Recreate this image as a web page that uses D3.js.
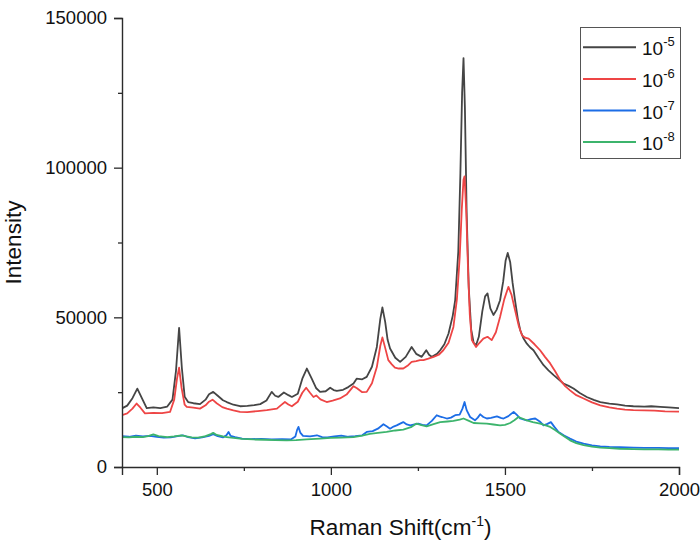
<!DOCTYPE html>
<html>
<head>
<meta charset="utf-8">
<script src="https://cdnjs.cloudflare.com/ajax/libs/d3/7.8.5/d3.min.js"></script>
<style>
  body { margin: 0; background: #fff; }
  svg { font-family: "Liberation Sans", Arial, sans-serif; }
</style>
</head>
<body>
<div id="chart"></div>
<script>
// spectra: [Raman shift (cm-1), intensity]
var conc5 = [[400,19600],[415,20500],[430,23000],[444,26200],[455,23500],[471,19700],[490,19900],[510,19700],[530,20200],[545,22500],[555,32000],[564,46500],[572,33000],[580,23500],[590,21700],[605,21300],[624,21000],[640,22500],[650,24300],[662,25100],[675,23800],[690,22300],[701,21700],[720,20800],[739,20300],[760,20400],[780,20700],[797,21000],[815,22200],[830,25100],[840,23800],[849,23400],[865,24900],[878,24000],[888,23400],[905,24500],[918,29500],[931,32900],[945,29500],[958,26300],[969,25100],[985,25300],[998,26500],[1008,25700],[1017,25400],[1035,25800],[1050,26700],[1065,27900],[1074,29500],[1090,29300],[1103,30100],[1118,33500],[1132,40100],[1142,49500],[1148,53300],[1156,48500],[1163,42500],[1170,39600],[1185,36500],[1199,35100],[1215,36800],[1232,40100],[1245,37800],[1261,36800],[1274,39000],[1282,37500],[1290,36800],[1305,37800],[1314,39000],[1326,41000],[1338,44600],[1350,50500],[1357,55700],[1366,72000],[1372,98000],[1377,125000],[1381,136600],[1385,120000],[1390,85000],[1396,60000],[1403,46000],[1410,41500],[1417,40700],[1425,43500],[1435,52000],[1443,57000],[1450,58000],[1458,53000],[1467,50800],[1476,52500],[1486,55700],[1495,62000],[1502,69000],[1508,71500],[1515,68500],[1522,61500],[1529,55700],[1537,49500],[1544,45700],[1553,43000],[1563,41200],[1572,40000],[1582,39000],[1597,36300],[1611,34000],[1625,32300],[1640,30700],[1655,29200],[1668,27900],[1683,27100],[1697,26200],[1715,24700],[1735,23400],[1755,22400],[1774,21700],[1800,21200],[1822,20900],[1845,20500],[1869,20300],[1900,20200],[1920,20300],[1946,20100],[1970,19900],[2000,19700]];

var conc6 = [[400,17300],[415,17900],[430,19500],[442,21200],[453,19800],[466,17900],[490,18100],[515,18000],[538,18400],[550,22500],[558,29500],[564,33200],[571,26500],[580,20800],[586,20100],[605,19800],[624,19500],[640,20600],[650,21800],[660,22500],[672,21300],[688,20000],[701,19500],[720,18900],[739,18400],[760,18300],[790,18700],[816,19000],[845,19500],[856,20600],[868,21700],[878,20900],[888,20300],[905,21800],[918,24800],[929,26500],[940,24800],[950,23400],[958,23900],[970,22600],[988,21700],[1005,22200],[1026,22900],[1045,24200],[1058,26000],[1065,27000],[1075,26300],[1090,25000],[1103,25100],[1118,28000],[1132,33400],[1142,40500],[1148,43300],[1156,39800],[1165,35700],[1175,34300],[1184,33200],[1195,32900],[1208,32900],[1220,33800],[1232,35100],[1245,35400],[1256,35700],[1266,35700],[1280,36200],[1295,36800],[1310,37500],[1323,39000],[1338,41500],[1352,46800],[1362,56000],[1370,70000],[1376,86000],[1381,96000],[1384,97100],[1389,85000],[1394,66000],[1399,51000],[1405,42400],[1417,40100],[1427,41500],[1438,42900],[1450,43500],[1462,42400],[1474,45000],[1486,50100],[1498,56000],[1510,60200],[1519,57500],[1529,52400],[1540,47000],[1549,44000],[1558,43200],[1568,42900],[1585,41000],[1601,39000],[1615,36800],[1630,34600],[1645,31800],[1659,29000],[1673,27000],[1687,25600],[1705,24000],[1726,22900],[1750,21600],[1774,20600],[1800,19900],[1822,19500],[1845,19200],[1869,19000],[1900,18900],[1930,18800],[1960,18600],[2000,18500]];

var conc7 = [[400,10300],[420,10100],[440,10500],[460,10200],[480,10400],[500,10100],[520,9800],[540,9900],[560,10300],[575,10600],[590,10000],[610,9600],[630,9900],[650,10400],[662,11000],[675,10300],[690,9900],[700,10600],[706,11700],[712,10400],[725,10000],[745,9500],[770,9300],[800,9400],[830,9200],[860,9300],[885,9200],[898,10200],[903,12400],[907,13400],[912,11500],[920,10400],[940,10200],[960,10600],[975,10000],[990,9900],[1010,10200],[1030,10500],[1050,10100],[1070,10300],[1090,10600],[1103,11700],[1120,12000],[1135,12800],[1151,14300],[1160,13600],[1170,12800],[1180,13500],[1189,13900],[1199,14500],[1208,15000],[1218,14200],[1228,13900],[1240,14200],[1251,14500],[1263,14100],[1275,13900],[1290,15400],[1304,17300],[1312,16900],[1319,16700],[1333,16200],[1345,16500],[1357,17300],[1370,17500],[1378,19500],[1384,21700],[1390,19000],[1400,16700],[1414,15600],[1422,16500],[1429,17600],[1438,16700],[1448,16200],[1460,16400],[1477,16900],[1488,16400],[1496,16200],[1510,17000],[1525,18400],[1535,17300],[1544,16200],[1555,15800],[1563,15600],[1575,16000],[1587,16200],[1600,15200],[1611,13900],[1622,14400],[1632,15000],[1642,13400],[1654,11700],[1670,10500],[1687,9500],[1705,8500],[1726,7800],[1750,7200],[1774,6900],[1800,6700],[1830,6600],[1869,6500],[1900,6400],[1940,6400],[1970,6300],[2000,6300]];

var conc8 = [[400,10000],[420,9900],[440,10100],[460,10000],[475,10300],[490,10900],[505,10300],[530,10000],[550,10200],[570,10600],[585,10200],[600,9900],[620,9800],[640,10300],[655,11000],[662,11400],[672,10700],[690,10200],[701,10000],[720,9700],[745,9400],[777,9200],[810,9100],[840,9000],[873,8900],[900,9000],[930,9200],[969,9500],[1000,9700],[1030,9800],[1065,10000],[1090,10500],[1112,11100],[1135,11400],[1160,11700],[1185,12200],[1208,12500],[1230,13300],[1246,14500],[1260,14000],[1275,13600],[1295,14300],[1314,15000],[1335,15200],[1352,15400],[1370,15800],[1381,16200],[1395,15500],[1410,14700],[1430,14600],[1448,14500],[1467,14200],[1486,13900],[1500,14100],[1515,14700],[1527,15600],[1539,16700],[1550,16200],[1563,15600],[1580,15000],[1601,14500],[1615,14000],[1630,13400],[1645,12300],[1659,11100],[1673,10000],[1687,8900],[1705,8000],[1726,7300],[1750,6800],[1774,6500],[1800,6300],[1830,6100],[1869,6000],[1900,5900],[1940,5900],[1970,5800],[2000,5800]];

var seriesNames = ["-5", "-6", "-7", "-8"];
var seriesData = [conc5, conc6, conc7, conc8];
var seriesColors = ["#454545", "#ee4545", "#1c6de6", "#3cb46c"];

var xTicks = [500, 1000, 1500, 2000];
var xMinor = [750, 1250, 1750];
var yTicks = [0, 50000, 100000, 150000];
var yMinor = [25000, 75000, 125000];

var margin = { top: 18, right: 21, bottom: 85, left: 122 },
  width = 700 - margin.left - margin.right,
  height = 552 - margin.top - margin.bottom;

var svg = d3
  .select("#chart")
  .append("svg")
  .attr("width", 700)
  .attr("height", 552);

var g = svg
  .append("g")
  .attr("transform", "translate(" + margin.left + "," + margin.top + ")");

var x = d3.scaleLinear().domain([400, 2000]).range([0, width]);
var y = d3.scaleLinear().domain([0, 150000]).range([height, 0]);

// clip the spectra to the plot area
g.append("clipPath")
  .attr("id", "clip")
  .append("rect")
  .attr("width", width)
  .attr("height", height);

var line = d3
  .line()
  .x(function (d) { return x(d[0]); })
  .y(function (d) { return y(d[1]); });

g.append("g")
  .attr("clip-path", "url(#clip)")
  .selectAll("path")
  .data(seriesData)
  .enter()
  .append("path")
  .attr("d", line)
  .attr("fill", "none")
  .attr("stroke", function (d, i) { return seriesColors[i]; })
  .attr("stroke-width", 1.8)
  .attr("stroke-linejoin", "round");

// X axis
g.append("g")
  .attr("transform", "translate(0," + height + ")")
  .call(d3.axisBottom(x).tickValues(xTicks).tickSize(8).tickPadding(8).tickFormat(d3.format("d")));
g.append("g")
  .attr("transform", "translate(0," + height + ")")
  .call(d3.axisBottom(x).tickValues(xMinor).tickSize(4).tickFormat(""))
  .select(".domain").remove();

// Y axis
g.append("g")
  .call(d3.axisLeft(y).tickValues(yTicks).tickSize(8).tickPadding(7).tickFormat(d3.format("d")));
g.append("g")
  .call(d3.axisLeft(y).tickValues(yMinor).tickSize(4).tickFormat(""))
  .select(".domain").remove();

g.selectAll(".domain").attr("stroke", "#2b2b2b").attr("stroke-width", 1.4);
g.selectAll(".tick line").attr("stroke", "#2b2b2b").attr("stroke-width", 1.3);
g.selectAll(".tick text")
  .attr("font-size", 18.5)
  .attr("fill", "#111")
  .attr("font-family", "Liberation Sans, Arial, sans-serif");

// axis titles
var xTitle = svg
  .append("text")
  .attr("x", margin.left + width / 2)
  .attr("y", 535)
  .attr("text-anchor", "middle")
  .attr("font-size", 22.6)
  .attr("fill", "#111");
xTitle.append("tspan").text("Raman Shift(cm");
xTitle.append("tspan").attr("font-size", 14).attr("dy", -9).text("-1");
xTitle.append("tspan").attr("dy", 9).text(")");

svg
  .append("text")
  .attr("transform", "translate(21," + (margin.top + height / 2) + ") rotate(-90)")
  .attr("text-anchor", "middle")
  .attr("font-size", 22.6)
  .attr("fill", "#111")
  .text("Intensity");

// legend
var legend = svg.append("g");
legend
  .append("rect")
  .attr("x", 580.5)
  .attr("y", 27.5)
  .attr("width", 100)
  .attr("height", 131)
  .attr("fill", "#fff")
  .attr("stroke", "#555")
  .attr("stroke-width", 1);

var items = legend
  .selectAll(".item")
  .data(seriesNames)
  .enter()
  .append("g")
  .attr("class", "item")
  .attr("transform", function (d, i) { return "translate(0," + (47.3 + i * 31.6) + ")"; });

items
  .append("line")
  .attr("x1", 583)
  .attr("x2", 636)
  .attr("stroke", function (d, i) { return seriesColors[i]; })
  .attr("stroke-width", 2);

var lt = items
  .append("text")
  .attr("x", 642)
  .attr("y", 8)
  .attr("font-size", 19)
  .attr("fill", "#111");
lt.append("tspan").text("10");
lt.append("tspan").attr("font-size", 13).attr("dy", -9).text(function (d) { return d; });
</script>
</body>
</html>
